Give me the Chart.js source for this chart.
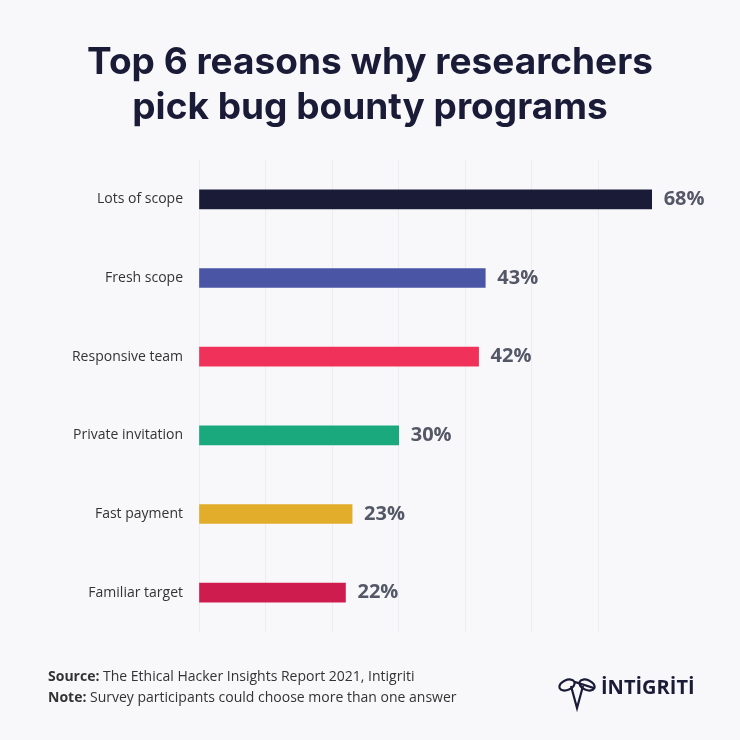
<!DOCTYPE html>
<html>
<head>
<meta charset="utf-8">
<script src="https://cdn.jsdelivr.net/npm/chart.js@4"></script>
<style>
  html, body { margin: 0; padding: 0; background: #f8f8fb; }
  #wrap { width: 740px; height: 740px; }
</style>
</head>
<body>
<div id="wrap"><canvas id="grafik"></canvas></div>
<script>
// data
var reasons = ['Lots of scope', 'Fresh scope', 'Responsive team', 'Private invitation', 'Fast payment', 'Familiar target'];
var shares = [68, 43, 42, 30, 23, 22];
var barColors = ['#1a1c37', '#4b55a6', '#f0325a', '#1aa97c', '#e2ad2a', '#cf1c4f'];
var titleLines = ['Top 6 reasons why researchers', 'pick bug bounty programs'];

// tulisan di atas dan bawah grafik + label nilai
var extras = {
    id: 'extras',
    afterDatasetsDraw: function(chart) {
        var c = chart.ctx;
        c.save();
        // label persen di ujung bar
        var meta = chart.getDatasetMeta(0);
        c.font = 'bold 20px "Open Sans"';
        c.fillStyle = '#545766';
        c.textBaseline = 'middle';
        meta.data.forEach(function(bar, i) {
            c.fillText(shares[i] + '%', bar.x + 12, bar.y);
        });
        // judul
        c.font = 'bold 37px Inter';
        c.fillStyle = '#1a1c37';
        c.textAlign = 'center';
        c.textBaseline = 'alphabetic';
        c.fillText(titleLines[0], 370, 74);
        c.fillText(titleLines[1], 370, 119);
        // sumber
        c.textAlign = 'left';
        c.fillStyle = '#333';
        c.font = 'bold 14px "Open Sans"';
        c.fillText('Source:', 48, 681);
        var w1 = c.measureText('Source: ').width;
        c.fillText('Note:', 48, 702);
        var w2 = c.measureText('Note: ').width;
        c.font = '14px "Open Sans"';
        c.fillText('The Ethical Hacker Insights Report 2021, Intigriti', 48 + w1, 681);
        c.fillText('Survey participants could choose more than one answer', 48 + w2, 702);
        // logo
        c.strokeStyle = '#1a1c37';
        c.lineWidth = 2.2;
        c.beginPath();
        c.ellipse(567, 685, 8, 5, -0.4, 0, Math.PI * 2);
        c.ellipse(587, 685, 8, 5, 0.4, 0, Math.PI * 2);
        c.stroke();
        c.beginPath();
        c.moveTo(571, 686); c.lineTo(577, 708); c.lineTo(583, 686);
        c.stroke();
        c.font = 'bold 20px "Open Sans"';
        c.fillStyle = '#1a1c37';
        c.fillText('İNTİGRİTİ', 601, 694);
        c.restore();
    }
};

var ctx = document.getElementById('grafik').getContext('2d');
var myChart = new Chart(ctx, {
    type: 'bar',
    data: {
        labels: reasons,
        datasets: [{
            data: shares,
            backgroundColor: barColors,
            barThickness: 19
        }]
    },
    options: {
        indexAxis: 'y',
        responsive: true,
        maintainAspectRatio: false,
        animation: false,
        layout: { padding: { top: 160, right: 75, bottom: 108, left: 0 } },
        plugins: {
            legend: { display: false },
            tooltip: { enabled: false }
        },
        scales: {
            x: {
                min: 0,
                max: 70,
                ticks: { stepSize: 10, display: false },
                border: { display: false },
                grid: {
                    drawTicks: false,
                    lineWidth: 1,
                    color: function(c) { return c.tick && c.tick.value === 70 ? 'rgba(0,0,0,0)' : '#ececf1'; }
                }
            },
            y: {
                afterFit: function(scale) { scale.width = 199; },
                border: { display: false },
                grid: { display: false },
                ticks: {
                    color: '#333',
                    padding: 8,
                    font: { family: 'Open Sans', size: 14 }
                }
            }
        }
    },
    plugins: [extras]
});
</script>
</body>
</html>
